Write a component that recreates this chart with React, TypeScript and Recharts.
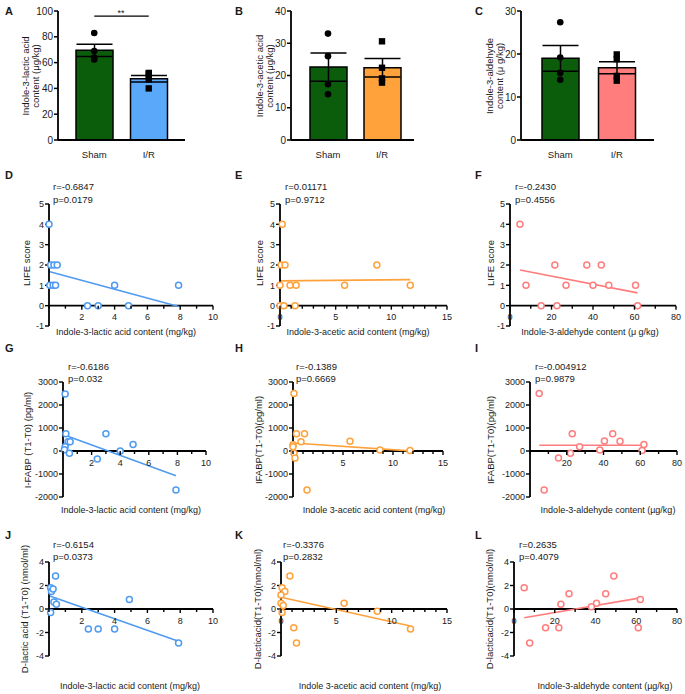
import { ComposedChart, Bar, ErrorBar, Scatter, Line, XAxis, YAxis, ReferenceLine, Cell } from 'recharts'

const FONT = '"Liberation Sans", Arial, sans-serif'
const INK = '#1a1a1a'
const GREEN = '#0b5c0b'
const BLUE = '#4f9bf0'
const ORANGE = '#ffa23c'
const PINK = '#ff7d7d'

// ---- row 1: bar charts ----
const groups = ['Sham', 'I/R']

const ilaMean = [69.5, 47.5]
const ilaSem = [4.7, 2.5]
const ilaSham = [83, 69, 64, 62.5]
const ilaIr = [52, 51, 47, 40]

const iaaMean = [22.6, 22.4]
const iaaSem = [4.4, 2.9]
const iaaSham = [33, 26, 17.3, 14.2]
const iaaIr = [30.6, 22.4, 19.1, 17.8]

const ialdMean = [19.0, 16.8]
const ialdSem = [3.0, 1.4]
const ialdSham = [27.4, 19.2, 15.6, 14]
const ialdIr = [19.9, 18.8, 14.9, 13.8]

// ---- scatter panels: x = metabolite content, y = outcome ----
const ilaX = [0, 0.1, 0.3, 0.5, 0.05, 0.25, 0.4, 4.0, 7.9, 2.35, 3.0, 4.85]
const lifeD = [4, 2, 2, 2, 1, 1, 1, 1, 1, 0, 0, 0]
const fitD = [{ x: 0, y: 1.68 }, { x: 7.9, y: -0.04 }]

const iaaXE = [0.2, 0.1, 0.45, 8.7, 0, 0.9, 1.45, 5.8, 11.7, 0, 0.35, 1.35]
const lifeE = [4, 2, 2, 2, 1, 1, 1, 1, 1, 0, 0, 0]
const fitE = [{ x: 0, y: 1.22 }, { x: 11.7, y: 1.28 }]

const ialdXF = [4.8, 21.6, 37, 44, 7.7, 27, 40, 47.6, 60.5, 15, 22.6, 61.5]
const lifeF = [4, 2, 2, 2, 1, 1, 1, 1, 1, 0, 0, 0]
const fitF = [{ x: 4.8, y: 1.75 }, { x: 61.5, y: 0.63 }]

const ilaXG = [0.15, 0.2, 3.0, 0.35, 0.5, 0.15, 0.1, 0.45, 2.4, 4.0, 4.9, 7.9]
const fabpG = [2480, 750, 750, 400, 400, 180, 50, -100, -350, 0, 280, -1700]
const fitG = [{ x: 0.1, y: 700 }, { x: 7.9, y: -1080 }]

const iaaXH = [0.1, 0.35, 1.15, 0.8, 0, 0, 0.1, 0.2, 1.4, 5.7, 8.7, 11.7]
const fabpH = [2500, 750, 750, 400, 270, 180, -100, -300, -1700, 420, 40, 20]
const fitH = [{ x: 0, y: 350 }, { x: 11.7, y: 5 }]

const ialdXI = [5, 23, 45, 40.5, 49, 27, 38, 22, 15.5, 7.7, 62, 61]
const fabpI = [2500, 750, 750, 440, 420, 180, 40, -100, -300, -1700, 280, 20]
const fitI = [{ x: 5, y: 250 }, { x: 62, y: 250 }]

const ilaXJ = [0.4, 0.1, 0.15, 0.25, 0.3, 0.45, 0.1, 2.4, 3.0, 4.0, 4.9, 7.9]
const dlacJ = [2.8, 1.8, 1.5, 1.7, 0.6, 0.4, -0.3, -1.7, -1.7, -1.7, 0.8, -2.9]
const fitJ = [{ x: 0.05, y: 1.1 }, { x: 7.9, y: -2.75 }]

const iaaXK = [0.8, 0.1, 0.35, 0, 0, 0.2, 0.1, 1.15, 1.4, 5.7, 8.7, 11.7]
const dlacK = [2.8, 1.8, 1.5, 1.2, 0.5, 0.3, -0.3, -1.6, -2.9, 0.5, -0.2, -1.7]
const fitK = [{ x: 0, y: 1.0 }, { x: 11.7, y: -1.45 }]

const ialdXL = [5, 7.7, 15.5, 22, 23, 27, 38, 40.5, 45, 49, 61, 62]
const dlacL = [1.8, -2.9, -1.6, -1.6, 0.4, 1.3, 0.2, 0.5, 1.3, 2.8, -1.6, 0.8]
const fitL = [{ x: 5, y: -0.75 }, { x: 62, y: 0.95 }]

const toPts = (xs: number[], ys: number[]) => xs.map((x, i) => ({ x, y: ys[i] }))

function Txt({ x, y, children, size = 9.5, bold = false, center = false }: any) {
  return (
    <div
      style={{
        position: 'absolute', left: x, top: y, fontFamily: FONT, fontSize: size, lineHeight: 1,
        fontWeight: bold ? 700 : 400, color: INK, whiteSpace: 'nowrap',
        transform: center ? 'translate(-50%, -50%)' : 'translateY(-50%)',
      }}
    >
      {children}
    </div>
  )
}

function VTxt({ x, y, children, size = 9.5 }: any) {
  return (
    <div
      style={{
        position: 'absolute', left: x, top: y, fontFamily: FONT, fontSize: size, lineHeight: 1.1,
        color: INK, whiteSpace: 'nowrap', textAlign: 'center',
        transform: 'translate(-50%, -50%) rotate(-90deg)',
      }}
    >
      {children}
    </div>
  )
}

const dot = (props: any) => <circle cx={props.cx} cy={props.cy} r={3.3} fill="#000" />
const square = (props: any) => (
  <rect x={props.cx - 3.2} y={props.cy - 3.2} width={6.4} height={6.4} fill="#000" />
)

function BarPanel(p: any) {
  const YW = 40, MT = 10, MR = 4, XH = 26
  const top = 11, bottom = 140
  const data = groups.map((g, i) => ({ g, mean: p.means[i], sem: p.sems[i] }))
  const sham = p.sham.map((v: number) => ({ g: groups[0], v }))
  const ir = p.ir.map((v: number) => ({ g: groups[1], v }))
  return (
    <div style={{ position: 'absolute', left: p.axisX - YW, top: top - MT }}>
      <ComposedChart
        width={p.axisEnd - p.axisX + YW + MR}
        height={bottom - top + MT + XH}
        data={data}
        margin={{ top: MT, right: MR, bottom: 0, left: 0 }}
      >
        <XAxis
          dataKey="g"
          type="category"
          allowDuplicatedCategory={false}
          padding={p.pad}
          height={XH}
          tickLine={false}
          axisLine={{ stroke: '#000', strokeWidth: 1.8 }}
          tick={{ fontSize: 9.5, fill: INK, fontFamily: FONT }}
          tickMargin={5}
        />
        <YAxis
          width={YW}
          domain={[0, p.yMax]}
          ticks={p.yTicks}
          interval={0}
          tickSize={4}
          tickMargin={1}
          axisLine={{ stroke: '#000', strokeWidth: 1.8 }}
          tickLine={{ stroke: '#000', strokeWidth: 1.5 }}
          tick={{ fontSize: 10, fill: INK, fontFamily: FONT }}
        />
        <Bar dataKey="mean" barSize={37} stroke="#000" strokeWidth={1.5} isAnimationActive={false}>
          {data.map((d, i) => (
            <Cell key={d.g} fill={i === 0 ? GREEN : p.irColor} />
          ))}
          <ErrorBar dataKey="sem" width={18} stroke="#000" strokeWidth={1.5} />
        </Bar>
        <Scatter data={sham} dataKey="v" shape={dot} isAnimationActive={false} />
        <Scatter data={ir} dataKey="v" shape={square} isAnimationActive={false} />
        {p.sig && (
          <ReferenceLine
            segment={[{ x: groups[0], y: p.sig }, { x: groups[1], y: p.sig }]}
            stroke="#000"
            strokeWidth={1.2}
          />
        )}
      </ComposedChart>
    </div>
  )
}

function ScatterPanel(p: any) {
  const YW = 40, MT = 8, MR = 8, XH = 20
  const plotH = p.yBot - p.yTop
  const [yMin, yMax] = p.yDomain
  const shift = (plotH * (0 - yMin)) / (yMax - yMin)
  const zeroTick = (props: any) => {
    const { x, y, payload } = props
    const major = p.xLabels.includes(payload.value)
    const y0 = y - shift
    return (
      <g>
        <line x1={x} x2={x} y1={y0} y2={y0 + (major ? 4 : 3)} stroke="#000" strokeWidth={1.4} />
        {major && (
          <text x={x} y={y0 + 14.5} textAnchor="middle" fontSize={9} fill={INK} fontFamily={FONT}>
            {payload.value}
          </text>
        )}
      </g>
    )
  }
  const ring = (props: any) => (
    <circle cx={props.cx} cy={props.cy} r={3} fill="#fff" stroke={p.color} strokeWidth={1.5} />
  )
  return (
    <div style={{ position: 'absolute', left: p.x0 - YW, top: p.yTop - MT }}>
      <ComposedChart
        width={p.x1 - p.x0 + YW + MR}
        height={plotH + MT + XH}
        margin={{ top: MT, right: MR, bottom: 0, left: 0 }}
      >
        <XAxis
          type="number"
          dataKey="x"
          domain={p.xDomain}
          ticks={p.xTicks}
          interval={0}
          height={XH}
          axisLine={false}
          tickLine={false}
          tickSize={0}
          tickMargin={0}
          tick={zeroTick}
        />
        <YAxis
          type="number"
          dataKey="y"
          width={YW}
          domain={p.yDomain}
          ticks={p.yTicks}
          interval={0}
          tickSize={4}
          tickMargin={1}
          axisLine={{ stroke: '#000', strokeWidth: 1.8 }}
          tickLine={{ stroke: '#000', strokeWidth: 1.4 }}
          tick={{ fontSize: 9, fill: INK, fontFamily: FONT }}
        />
        <ReferenceLine y={0} stroke="#000" strokeWidth={1.8} />
        <Line data={p.fit} dataKey="y" stroke={p.color} strokeWidth={1.6} dot={false} isAnimationActive={false} />
        <Scatter data={p.pts} dataKey="y" shape={ring} isAnimationActive={false} />
      </ComposedChart>
    </div>
  )
}

const range = (a: number, b: number, step: number) => {
  const out: number[] = []
  for (let v = a; v <= b + 1e-9; v += step) out.push(v)
  return out
}

export default function App() {
  const lifeY = { yTop: 204, yBot: 326, yDomain: [-1, 5], yTicks: [-1, 0, 1, 2, 3, 4, 5] }
  const fabpY = { yTop: 382, yBot: 497, yDomain: [-2000, 3000], yTicks: [-2000, -1000, 0, 1000, 2000, 3000] }
  const dlacY = { yTop: 562, yBot: 656, yDomain: [-4, 4], yTicks: [-4, -2, 0, 2, 4] }
  const ilaAxis = { xDomain: [0, 10], xTicks: range(0, 10, 1), xLabels: [2, 4, 6, 8, 10] }
  const iaaAxis = { xDomain: [0, 15], xTicks: range(0, 15, 1), xLabels: [0, 5, 10, 15] }
  const iaaAxis2 = { xDomain: [0, 15], xTicks: range(0, 15, 1), xLabels: [5, 10, 15] }
  const ialdAxis = { xDomain: [0, 80], xTicks: range(0, 80, 10), xLabels: [0, 20, 40, 60, 80] }
  const ialdAxis2 = { xDomain: [0, 80], xTicks: range(0, 80, 10), xLabels: [20, 40, 60, 80] }

  return (
    <div style={{ position: 'absolute', left: 0, top: 0, width: 685, height: 694, background: '#fff', overflow: 'hidden' }}>
      {/* row 1 */}
      <BarPanel axisX={58} axisEnd={185} yMax={100} yTicks={[0, 20, 40, 60, 80, 100]} means={ilaMean} sems={ilaSem}
        sham={ilaSham} ir={ilaIr} irColor="#5aa8fa" pad={{ left: 9, right: 9 }} sig={96} />
      <BarPanel axisX={291} axisEnd={414} yMax={40} yTicks={[0, 10, 20, 30, 40]} means={iaaMean} sems={iaaSem}
        sham={iaaSham} ir={iaaIr} irColor={ORANGE} pad={{ left: 10, right: 5 }} />
      <BarPanel axisX={521} axisEnd={654} yMax={30} yTicks={[0, 10, 20, 30]} means={ialdMean} sems={ialdSem}
        sham={ialdSham} ir={ialdIr} irColor={PINK} pad={{ left: 11, right: 9 }} />
      <Txt x={121} y={13} center size={9}>**</Txt>
      <VTxt x={31} y={76}>Indole-3-lactic acid<br />content (μg/kg)</VTxt>
      <VTxt x={265} y={76}>Indole-3-acetic acid<br />content (μg/kg)</VTxt>
      <VTxt x={495} y={76}>Indole-3-aldehyde<br />content (μ g/kg)</VTxt>

      {/* row 2 */}
      <ScatterPanel x0={49} x1={213} {...lifeY} {...ilaAxis} pts={toPts(ilaX, lifeD)} fit={fitD} color={BLUE} />
      <ScatterPanel x0={280} x1={447} {...lifeY} {...iaaAxis} pts={toPts(iaaXE, lifeE)} fit={fitE} color={ORANGE} />
      <ScatterPanel x0={510} x1={676} {...lifeY} {...ialdAxis} pts={toPts(ialdXF, lifeF)} fit={fitF} color={PINK} />
      <VTxt x={27} y={263}>LIFE score</VTxt>
      <VTxt x={260} y={263}>LIFE score</VTxt>
      <VTxt x={491} y={263}>LIFE score</VTxt>
      <Txt x={126} y={332} center size={9}>Indole-3-lactic acid content (mg/kg)</Txt>
      <Txt x={358} y={332} center size={9}>Indole-3-acetic acid content (mg/kg)</Txt>
      <Txt x={590} y={332} center size={9}>Indole-3-aldehyde content (μ g/kg)</Txt>
      <Txt x={53} y={187}>r=-0.6847</Txt>
      <Txt x={53} y={200}>p=0.0179</Txt>
      <Txt x={285} y={187}>r=0.01171</Txt>
      <Txt x={285} y={200}>p=0.9712</Txt>
      <Txt x={515} y={187}>r=-0.2430</Txt>
      <Txt x={515} y={200}>p=0.4556</Txt>

      {/* row 3 */}
      <ScatterPanel x0={63} x1={206} {...fabpY} {...ilaAxis} pts={toPts(ilaXG, fabpG)} fit={fitG} color={BLUE} />
      <ScatterPanel x0={293} x1={443} {...fabpY} {...iaaAxis2} pts={toPts(iaaXH, fabpH)} fit={fitH} color={ORANGE} />
      <ScatterPanel x0={530} x1={677} {...fabpY} {...ialdAxis2} pts={toPts(ialdXI, fabpI)} fit={fitI} color={PINK} />
      <VTxt x={28} y={440}>I-FABP (T1-T0) (pg/ml)</VTxt>
      <VTxt x={259} y={440}>IFABP(T1-T0)(pg/ml)</VTxt>
      <VTxt x={491} y={440}>IFABP(T1-T0)(pg/ml)</VTxt>
      <Txt x={131} y={510} center size={9}>Indole-3-lactic acid content (mg/kg)</Txt>
      <Txt x={374} y={510} center size={9}>Indole 3-acetic acid content (mg/kg)</Txt>
      <Txt x={608} y={510} center size={9}>Indole-3-aldehyde content (µg/kg)</Txt>
      <Txt x={68} y={367}>r=-0.6186</Txt>
      <Txt x={68} y={379}>p=0.032</Txt>
      <Txt x={296} y={367}>r=-0.1389</Txt>
      <Txt x={296} y={379}>p=0.6669</Txt>
      <Txt x={535} y={367}>r=-0.004912</Txt>
      <Txt x={535} y={379}>p=0.9879</Txt>

      {/* row 4 */}
      <ScatterPanel x0={49} x1={213} {...dlacY} {...ilaAxis} pts={toPts(ilaXJ, dlacJ)} fit={fitJ} color={BLUE} />
      <ScatterPanel x0={281} x1={447} {...dlacY} {...iaaAxis} pts={toPts(iaaXK, dlacK)} fit={fitK} color={ORANGE} />
      <ScatterPanel x0={514} x1={677} {...dlacY} {...ialdAxis} pts={toPts(ialdXL, dlacL)} fit={fitL} color={PINK} />
      <VTxt x={25} y={609}>D-lactic acid (T1-T0) (nmol/ml)</VTxt>
      <VTxt x={258} y={609}>D-lacticacid(T1-T0)(nmol/ml)</VTxt>
      <VTxt x={490} y={609}>D-lacticacid(T1-T0)(nmol/ml)</VTxt>
      <Txt x={130} y={686} center size={9}>Indole-3-lactic acid content (mg/kg)</Txt>
      <Txt x={370} y={686} center size={9}>Indole 3-acetic acid content (mg/kg)</Txt>
      <Txt x={605} y={686} center size={9}>Indole-3-aldehyde content (µg/kg)</Txt>
      <Txt x={53} y={545}>r=-0.6154</Txt>
      <Txt x={53} y={557}>p=0.0373</Txt>
      <Txt x={283} y={545}>r=-0.3376</Txt>
      <Txt x={283} y={557}>p=0.2832</Txt>
      <Txt x={519} y={545}>r=0.2635</Txt>
      <Txt x={519} y={557}>p=0.4079</Txt>

      {/* panel letters */}
      <Txt x={5} y={11} bold size={11}>A</Txt>
      <Txt x={235} y={11} bold size={11}>B</Txt>
      <Txt x={475} y={11} bold size={11}>C</Txt>
      <Txt x={5} y={175} bold size={11}>D</Txt>
      <Txt x={235} y={175} bold size={11}>E</Txt>
      <Txt x={475} y={175} bold size={11}>F</Txt>
      <Txt x={5} y={348} bold size={11}>G</Txt>
      <Txt x={235} y={348} bold size={11}>H</Txt>
      <Txt x={475} y={348} bold size={11}>I</Txt>
      <Txt x={5} y={535} bold size={11}>J</Txt>
      <Txt x={235} y={535} bold size={11}>K</Txt>
      <Txt x={475} y={535} bold size={11}>L</Txt>
    </div>
  )
}
